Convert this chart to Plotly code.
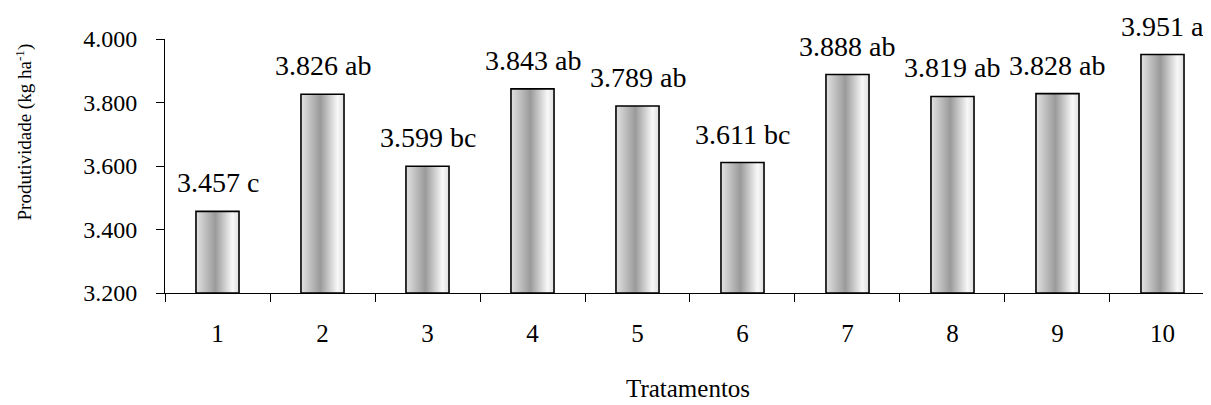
import plotly.graph_objects as go

tratamentos = [1, 2, 3, 4, 5, 6, 7, 8, 9, 10]
produtividade = [3457, 3826, 3599, 3843, 3789, 3611, 3888, 3819, 3828, 3951]
letras = ["c", "ab", "bc", "ab", "ab", "bc", "ab", "ab", "ab", "a"]
y_ticks = [3200, 3400, 3600, 3800, 4000]
y_tick_text = ["3.200", "3.400", "3.600", "3.800", "4.000"]

BASE = 3200
BAR_W = 0.41
FONT = "Liberation Serif, Times New Roman, serif"
grad = [[0, "#e2e2e2"], [0.45, "#9a9a9a"], [0.85, "#f8f8f8"], [1, "#dedede"]]

fig = go.Figure()
for t, v in zip(tratamentos, produtividade):
    x0, x1 = t - BAR_W / 2, t + BAR_W / 2
    fig.add_trace(go.Scatter(
        x=[x0, x0, x1, x1, x0], y=[BASE, v, v, BASE, BASE],
        mode="lines", fill="toself",
        fillgradient=dict(type="horizontal", colorscale=grad),
        line=dict(color="black", width=1.6),
        hoverinfo="skip", showlegend=False,
    ))

def fmt(v):
    return f"{v:,}".replace(",", ".")

for t, v, l in zip(tratamentos, produtividade, letras):
    fig.add_annotation(x=t, y=v, text=f"{fmt(v)} {l}", showarrow=False,
                       yanchor="bottom", yshift=11,
                       font=dict(family=FONT, size=28, color="black"))

fig.add_annotation(xref="paper", yref="paper", x=0, y=0.632, xshift=-141,
                   text="Produtividade (kg ha<sup>-1</sup>)", textangle=-90,
                   showarrow=False, xanchor="center", yanchor="middle",
                   font=dict(family=FONT, size=19, color="black"))
fig.add_annotation(xref="paper", yref="paper", x=0.5, y=-0.375,
                   text="Tratamentos", showarrow=False,
                   xanchor="center", yanchor="middle",
                   font=dict(family=FONT, size=25, color="black"))

fig.update_layout(
    width=1203, height=397,
    margin=dict(l=157, r=0, t=31, b=112),
    paper_bgcolor="white", plot_bgcolor="white",
    font=dict(family=FONT, size=24, color="black"),
    showlegend=False,
)
fig.update_xaxes(
    range=[0.5, 10.462], tickvals=tratamentos, ticktext=[str(t) for t in tratamentos],
    ticks="", showgrid=False, zeroline=False,
    showline=True, linecolor="black", linewidth=1,
    minor=dict(ticks="outside", tick0=0.5, dtick=1, ticklen=8, tickcolor="black", tickwidth=1, showgrid=False),
    ticklabelstandoff=18,
    tickfont=dict(family=FONT, size=25, color="black"),
)
fig.update_yaxes(
    range=[BASE, 4000], tickvals=y_ticks, ticktext=y_tick_text,
    ticks="outside", ticklen=8, tickcolor="black", tickwidth=1,
    showgrid=False, zeroline=False,
    showline=True, linecolor="black", linewidth=1,
    ticklabelstandoff=14,
    tickfont=dict(family=FONT, size=24, color="black"),
)

fig.write_html("out.html")
